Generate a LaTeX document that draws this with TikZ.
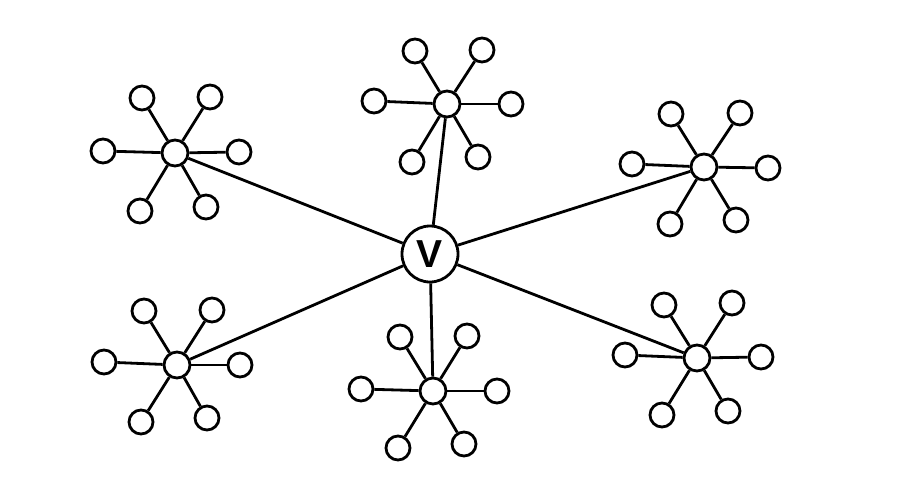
\documentclass[tikz,border=0pt]{standalone}
\usepackage{fontspec}
\setsansfont{Liberation Sans}
\begin{document}
\begin{tikzpicture}[x=1pt,y=-1pt,
  leaf/.style={circle,draw,line width=2.8pt,minimum size=24pt,inner sep=0pt},
  hub/.style={circle,draw,line width=2.8pt,minimum size=26pt,inner sep=0pt},
  center/.style={circle,draw,line width=2.8pt,minimum size=56pt,inner sep=0pt,font=\sffamily\bfseries\fontsize{39}{39}\selectfont},
  edge/.style={line width=2.8pt}]
\useasboundingbox (0,0) rectangle (906,490);
\node[center] (v) at (430,254) {V};
% hub 1
\node[hub] (h1) at (175,153) {};
\node[leaf] (h1a) at (103,151) {};
\node[leaf] (h1b) at (239,152) {};
\node[leaf] (h1c) at (142,98) {};
\node[leaf] (h1d) at (210,97) {};
\node[leaf] (h1e) at (140,211) {};
\node[leaf] (h1f) at (206,207) {};
% hub 2
\node[hub] (h2) at (447,104) {};
\node[leaf] (h2a) at (374,101) {};
\node[leaf] (h2b) at (511,104) {};
\node[leaf] (h2c) at (415,51) {};
\node[leaf] (h2d) at (482,50) {};
\node[leaf] (h2e) at (412,162) {};
\node[leaf] (h2f) at (478,157) {};
% hub 3
\node[hub] (h3) at (704,167) {};
\node[leaf] (h3a) at (632,164) {};
\node[leaf] (h3b) at (768,168) {};
\node[leaf] (h3c) at (671,114) {};
\node[leaf] (h3d) at (740,113) {};
\node[leaf] (h3e) at (670,224) {};
\node[leaf] (h3f) at (736,220) {};
% hub 4
\node[hub] (h4) at (177,365) {};
\node[leaf] (h4a) at (104,362) {};
\node[leaf] (h4b) at (240,365) {};
\node[leaf] (h4c) at (144,311) {};
\node[leaf] (h4d) at (212,310) {};
\node[leaf] (h4e) at (141,422) {};
\node[leaf] (h4f) at (207,418) {};
% hub 5
\node[hub] (h5) at (433,391) {};
\node[leaf] (h5a) at (361,389) {};
\node[leaf] (h5b) at (497,391) {};
\node[leaf] (h5c) at (400,337) {};
\node[leaf] (h5d) at (467,336) {};
\node[leaf] (h5e) at (398,448) {};
\node[leaf] (h5f) at (464,444) {};
% hub 6
\node[hub] (h6) at (697,358) {};
\node[leaf] (h6a) at (625,355) {};
\node[leaf] (h6b) at (761,357) {};
\node[leaf] (h6c) at (664,305) {};
\node[leaf] (h6d) at (732,303) {};
\node[leaf] (h6e) at (662,415) {};
\node[leaf] (h6f) at (728,411) {};
\foreach \h in {h1,h2,h3,h4,h5,h6}{
  \draw[edge] (v) -- (\h);
  \foreach \l in {a,b,c,d,e,f}{\draw[edge] (\h) -- (\h\l);}
}
\end{tikzpicture}
\end{document}
